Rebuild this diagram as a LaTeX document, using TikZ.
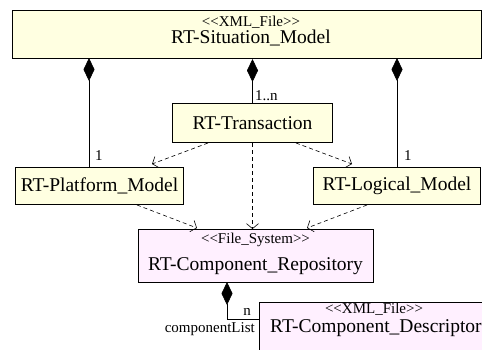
\documentclass[tikz,border=0pt]{standalone}
\usepackage{fontspec}
\setmainfont{Liberation Serif}[Ligatures=TeXOff]
\usetikzlibrary{arrows.meta,calc}
\definecolor{yel}{RGB}{255,255,225}
\definecolor{pnk}{RGB}{255,240,255}
\begin{document}
\begin{tikzpicture}[x=1pt,y=-1pt,
 box/.style={draw=black, line width=1pt, inner sep=0pt, anchor=north west},
 ybox/.style={box, fill=yel, font=\fontsize{19.5}{21}\selectfont},
 pbox/.style={box, fill=pnk},
 big/.style={font=\fontsize{19.5}{21}\selectfont, inner sep=0pt},
 small/.style={font=\fontsize{15}{17}\selectfont, inner sep=0pt},
 comp/.style={line width=0.7pt, {Diamond[length=23pt,width=11pt]}-},
 dep/.style={line width=0.6pt, dash pattern=on 4pt off 3pt, -{Straight Barb[length=5pt,width=12pt]}},
 ]
\useasboundingbox (0,0) rectangle (482,349);
\clip (0,0) rectangle (482,349);
% boxes
\node[ybox, minimum width=469pt, minimum height=48pt] (sit) at (12,10) {};
\node[small, anchor=base] (sitst) at (251,26.5) {<<XML\_File>>};
\node[big, anchor=base] (sitn) at (251,43.5) {RT-Situation\_Model};
\node[ybox, minimum width=160pt, minimum height=39pt] (tr) at (172,103) {RT-Transaction};
\node[ybox, minimum width=168pt, minimum height=37pt] (plat) at (15,167) {RT-Platform\_Model};
\node[ybox, minimum width=167pt, minimum height=37pt] (log) at (313,167) {RT-Logical\_Model};
\node[pbox, minimum width=235pt, minimum height=53pt] (rep) at (138,229) {};
\node[small, anchor=base] (repst) at (255.5,243.5) {<<File\_System>>};
\node[big, anchor=base] (repn) at (255.5,270) {RT-Component\_Repository};
\node[pbox, minimum width=240pt, minimum height=60pt] (desc) at (259,302) {};
\node[small, anchor=base] (descst) at (374,313) {<<XML\_File>>};
\node[big, anchor=base west] (descn) at (270,332) {RT-Component\_Descriptor};
% compositions
\coordinate (c1) at (89,58);
\coordinate (c3) at (397,58);
\draw[comp] (c1) -- (c1 |- plat.north);
\draw[comp] (tr.north |- sit.south) -- (tr.north);
\draw[comp] (c3) -- (c3 |- log.north);
\coordinate (c4) at (227,282);
\coordinate (c5) at (227,319);
\draw[comp] (c4) -- (c5) -- (c5 -| desc.west);
% labels
\node[small, anchor=base west] (l1n) at (255,100) {1..n};
\node[small, anchor=base west] (l1a) at (95,160) {1};
\node[small, anchor=base west] (l1b) at (404,160) {1};
\node[small, anchor=base east] (ln) at (251,315.5) {n};
\node[small, anchor=base east] (lcl) at (255,332) {componentList};
% dependencies
\draw[dep] ($(tr.south west)+(36,0)$) -- ($(plat.north west)+(137,-3)$);
\draw[dep] ($(tr.south east)+(-37,0)$) -- ($(log.north west)+(39,-3)$);
\draw[dep] (tr.south) -- (tr.south |- rep.north);
\draw[dep] ($(plat.south west)+(122,0)$) -- ($(rep.north west)+(59,-1)$);
\draw[dep] ($(log.south west)+(54,0)$) -- ($(rep.north west)+(169,-1)$);
\end{tikzpicture}
\end{document}
